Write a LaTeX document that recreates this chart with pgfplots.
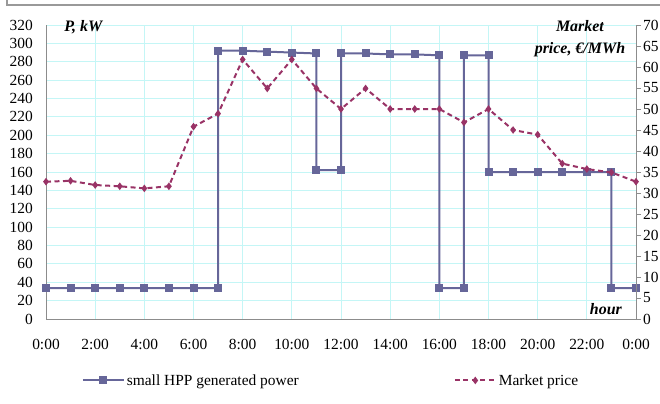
\documentclass[border=0pt]{standalone}
\usepackage{fontspec}
\setmainfont{Liberation Serif}
\usepackage{pgfplots}
\pgfplotsset{compat=1.18}
\definecolor{pwr}{HTML}{666699}
\definecolor{prc}{HTML}{993366}
\definecolor{grd}{HTML}{C4F6F6}
\definecolor{axg}{HTML}{8C8C8C}
\begin{document}
\begin{tikzpicture}[x=1bp,y=1bp]
\path[use as bounding box] (0,0) rectangle (660,403);
\draw[color=black!40, line width=1.3bp] (7,500) -- (7,398) -- (700,398);
\begin{axis}[
  at={(46bp,84bp)}, anchor=south west,
  scale only axis, width=590bp, height=294bp,
  xmin=0, xmax=24, ymin=0, ymax=320,
  xtick={0,2,...,24},
  xticklabels={0:00,2:00,4:00,6:00,8:00,10:00,12:00,14:00,16:00,18:00,20:00,22:00,0:00},
  ytick={0,20,...,320},
  font=\fontsize{15.5}{17}\selectfont,
  /pgf/number format/assume math mode=true,
  axis x line*=bottom, axis y line*=left,
  axis line style={axg, line width=0.9bp, -},
  major tick length=0pt,
  xmajorgrids, ymajorgrids,
  major grid style={grd, line width=0.8bp},
  yticklabel style={inner sep=0pt, anchor=east, xshift=-13bp},
  xticklabel style={inner sep=0pt, anchor=base, yshift=-30bp},
  legend columns=2,
  legend style={draw=none, fill=none, at={(0.483,-0.209)}, anchor=center,
    font=\fontsize{15.5}{17}\selectfont, inner sep=0pt,
    /tikz/every even column/.append style={column sep=153bp}},
  legend image code/.code={\draw[mark repeat=2,mark phase=2] plot coordinates {(0bp,0bp) (20.5bp,0bp) (41bp,0bp)};},
  clip=false,
]
\addplot[pwr, line width=2bp, mark=square*, mark size=3bp, mark options={solid}] coordinates {
(0,33.5)(1,33.5)(2,33.5)(3,33.5)(4,33.5)(5,33.5)(6,33.5)(7,33.5)
(7,292)(8,292)(9,291)(10,290)(11,289)(11,162)(12,162)
(12,289)(13,289)(14,288)(15,288)(16,287)(16,33.5)(17,33.5)
(17,287)(18,287)(18,160)(19,160)(20,160)(21,160)(22,160)(23,160)(23,33.5)(24,33.5)};
\addlegendentry{small HPP generated power}
\addlegendimage{prc, line width=2bp, dash pattern=on 5bp off 3.5bp, mark=diamond*, mark size=2.2bp, mark options={solid}}
\addlegendentry{Market price}
\node[anchor=west, inner sep=0pt, font=\fontsize{16}{18}\selectfont\bfseries\itshape] at (rel axis cs:0.031,0.993) {P, kW};
\node[align=center, inner sep=0pt, font=\fontsize{16}{22}\selectfont\bfseries\itshape] at (rel axis cs:0.905,0.953) {Market\\price, €/MWh};
\node[inner sep=0pt, font=\fontsize{16}{18}\selectfont\bfseries\itshape] at (rel axis cs:0.949,0.035) {hour};
\end{axis}
\begin{axis}[
  at={(46bp,84bp)}, anchor=south west,
  scale only axis, width=590bp, height=294bp,
  xmin=0, xmax=24, ymin=0, ymax=70,
  ytick={0,5,...,70},
  font=\fontsize{15.5}{17}\selectfont,
  /pgf/number format/assume math mode=true,
  axis x line=none, axis y line*=right,
  axis line style={axg, line width=0.9bp, -},
  tick align=outside, major tick length=5bp,
  tick style={axg, line width=0.9bp},
  yticklabel style={inner sep=0pt, anchor=west, xshift=2bp},
  clip=false,
]
\addplot[prc, line width=2bp, dash pattern=on 5bp off 3.5bp, mark=diamond*, mark size=2.2bp, mark options={solid}] coordinates {
(0,32.7)(1,32.9)(2,31.9)(3,31.6)(4,31.1)(5,31.6)(6,45.8)(7,48.9)(8,61.8)(9,54.9)(10,61.8)(11,54.9)
(12,50)(13,54.9)(14,50)(15,50)(16,50)(17,46.8)(18,50)(19,45)(20,43.9)(21,37)(22,35.7)(23,34.9)(24,32.7)};
\end{axis}
\end{tikzpicture}
\end{document}
